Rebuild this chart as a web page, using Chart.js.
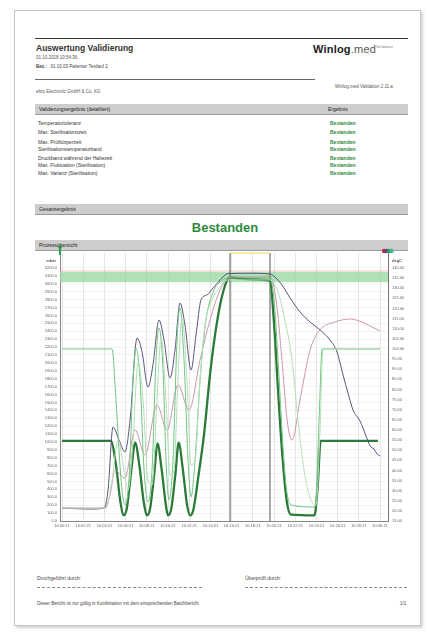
<!DOCTYPE html>
<html><head><meta charset="utf-8">
<script src="https://cdn.jsdelivr.net/npm/chart.js@4.4.1/dist/chart.umd.min.js"></script>
<style>
html,body{margin:0;padding:0;background:#fff;}
body{width:431px;height:633px;position:relative;overflow:hidden;font-family:"Liberation Sans",Arial,sans-serif;color:#333;}
.abs{position:absolute;white-space:nowrap;}
.page{position:absolute;left:14px;top:10px;width:405px;height:614px;border:1px solid #c4c4c4;box-shadow:2px 2px 3px rgba(0,0,0,0.18);}
.bar{position:absolute;left:35px;width:373px;height:10px;background:#cdcdcd;border-bottom:1px solid #9a9a9a;font-size:5px;line-height:10px;color:#222;}
.bar span{position:absolute;left:4px;}
.row{position:absolute;left:38px;font-size:5px;color:#333;white-space:nowrap;}
.ok{position:absolute;left:330px;font-size:5px;color:#2d8a3c;font-weight:bold;white-space:nowrap;}
#chartBox{position:absolute;left:0;top:245px;width:431px;height:295px;}
</style>
</head><body>
<div class="page"></div>

<div class="abs" style="left:35px;top:38px;width:373px;height:0;border-top:1.5px solid #333;"></div>
<div class="abs" style="left:36px;top:43px;font-size:8.5px;font-weight:bold;color:#333;">Auswertung Validierung</div>
<div class="abs" style="left:36px;top:55px;font-size:4.5px;color:#555;">01.10.2018 10:54:36</div>
<div class="abs" style="left:36px;top:64px;font-size:4.5px;color:#444;"><b>Bez.:</b>&nbsp;&nbsp;&nbsp;01.10.03 Patienter Testlauf 2</div>
<div class="abs" style="left:35px;top:79px;width:280px;height:0;border-top:1px solid #666;"></div>
<div class="abs" style="left:36px;top:89px;font-size:4.5px;color:#555;">ebro Electronic GmbH &amp; Co. KG</div>
<div class="abs" style="left:313px;top:43px;font-size:11px;font-weight:bold;color:#222;letter-spacing:0.2px;">Winlog<span style="font-weight:normal;color:#555;">.med</span><sup style="font-size:3.5px;font-weight:normal;color:#777;">Validation</sup></div>
<div class="abs" style="left:335px;top:84px;font-size:4.5px;color:#555;">Winlog.med Validation 2.11.a</div>

<div class="bar" style="top:104px;"><span>Validierungsergebnis (detailliert)</span><span style="left:293px;">Ergebnis</span></div>
<div id="rows"></div>

<div class="bar" style="top:204px;"><span>Gesamtergebnis</span></div>
<div class="abs" style="left:0;width:450px;text-align:center;top:220px;font-size:13px;font-weight:bold;color:#2d8a3c;">Bestanden</div>
<div class="bar" style="top:240px;"><span>Prozessübersicht</span></div>

<div id="chartBox"><canvas id="c" width="431" height="295"></canvas></div>

<div class="abs" style="left:37px;top:575px;font-size:5px;color:#444;">Durchgeführt durch:</div>
<div class="abs" style="left:245px;top:575px;font-size:5px;color:#444;">Überprüft durch:</div>
<div class="abs" style="left:37px;top:587px;width:165px;height:0;border-top:1px dashed #888;"></div>
<div class="abs" style="left:245px;top:587px;width:162px;height:0;border-top:1px dashed #888;"></div>
<div class="abs" style="left:37px;top:601px;font-size:4.5px;color:#444;">Dieser Bericht ist nur gültig in Kombination mit dem entsprechenden Batchbericht</div>
<div class="abs" style="left:400px;top:601px;font-size:4.5px;color:#444;">1/1</div>

<script>
// Validation criteria and their results
const criteria = [
  "Temperaturtoleranz",
  "Max. Sterilisationszeit",
  "Max. Prüfkörperzeit",
  "Sterilisationstemperaturband",
  "Druckband während der Haltezeit",
  "Max. Fluktuation (Sterilisation)",
  "Max. Varianz (Sterilisation)"
];
const results = ["Bestanden","Bestanden","Bestanden","Bestanden","Bestanden","Bestanden","Bestanden"];
const rowTops = [120, 128.5, 139, 146, 155, 162, 170];

const rowsEl = document.getElementById('rows');
criteria.forEach((name, i) => {
  const a = document.createElement('div');
  a.className = 'row'; a.style.top = rowTops[i] + 'px'; a.textContent = name;
  const b = document.createElement('div');
  b.className = 'ok'; b.style.top = rowTops[i] + 'px'; b.textContent = results[i];
  rowsEl.appendChild(a); rowsEl.appendChild(b);
});

// Time axis: minutes after 10:00:21
const startClock = [10, 0, 21];
const timeTicks = [0,2,4,6,8,10,12,14,16,18,20,22,24,26,28,30];

// Chamber pressure (mbar)
const pressureTime = [0,4.6,5.1,5.5,5.8,6.1,6.5,6.9,7.3,7.7,8.0,8.3,8.7,9.0,9.4,9.8,10.0,10.3,10.7,11.0,11.4,11.8,12.1,12.4,12.9,13.4,14.0,14.6,15.2,15.8,17.5,19.6,20.0,20.4,20.8,21.2,21.6,23.8,24.1,24.4,29.8];
const pressure     = [1013,1013,700,250,70,150,600,990,700,250,70,150,600,980,650,200,70,150,600,990,650,200,70,150,600,1100,1900,2500,2900,3080,3060,3040,2500,1600,800,250,80,70,400,1013,1013];

// Chamber temperature (°C)
const chamberTime = [0,2.64,3.96,4.34,4.81,5.38,5.94,6.42,7.08,7.55,8.11,8.58,9.15,9.62,10.19,10.66,11.13,11.6,12.17,12.64,13.11,13.68,14.25,14.91,15.66,17.74,19.62,20.09,20.75,21.51,22.45,23.4,24.34,25.28,25.94,26.51,26.98,27.45,28.11,28.68,29.06,29.43,29.72,30.0];
const chamberTemp = [21.4,20.9,21.4,30.3,61.4,55.0,49.1,64.9,105.4,98.5,81.2,92.1,114.3,104.4,85.7,99.5,122.7,111.8,89.6,106.9,124.2,126.7,130.1,134.1,137.2,137.4,137.0,135.5,131.6,125.2,118.3,113.3,109.4,104.4,98.5,87.1,78.2,69.8,64.4,57.0,52.1,50.6,48.1,47.1];

// Load temperature (°C)
const loadTime = [0,4.06,4.53,5.0,5.94,6.89,7.83,8.96,9.91,10.94,11.98,13.02,13.96,14.91,15.85,19.62,20.19,20.75,21.23,21.7,22.45,23.4,24.34,25.75,27.17,28.3,29.25,30.0];
const loadTemp = [21.4,21.4,27.8,40.2,36.2,60.0,47.6,72.3,60.0,82.2,69.8,94.5,114.3,129.1,135.6,135.6,124.2,94.5,64.9,55.0,74.8,99.5,109.4,113.3,114.8,113.3,110.8,108.9];

// Sensor 1 temperature (°C)
const sensor1Time = [0,4.72,5.09,5.57,5.94,6.32,6.7,6.98,7.36,7.74,8.11,8.49,8.87,9.15,9.53,9.81,10.09,10.47,10.85,11.13,11.51,11.89,12.17,12.55,13.02,13.58,14.25,14.91,15.66,19.62,20.0,20.38,20.75,21.13,21.6,23.87,24.25,24.53,30.0];
const sensor1Temp = [100.0,100.0,74.8,35.3,22.9,35.3,84.7,100.5,84.7,40.2,24.4,40.2,94.5,110.4,89.6,45.1,25.4,45.1,104.4,120.2,94.5,45.1,26.9,45.1,84.7,114.3,128.1,133.1,135.1,135.1,124.2,94.5,60.0,32.8,22.9,21.9,64.9,100.0,100.0];

// Sensor 2 temperature (°C)
const sensor2Time = [0,4.15,4.72,5.28,5.85,6.23,6.7,7.17,7.64,8.11,8.49,8.96,9.34,9.81,10.19,10.57,10.94,11.32,11.79,12.17,12.55,13.02,13.49,14.15,14.91,15.66,19.62,20.38,20.98,21.7,22.26,22.83,23.4,23.96,24.34,24.62,30.0];
const sensor2Temp = [21.4,21.4,35.3,55.0,40.2,30.3,55.0,93.5,74.8,35.3,32.8,74.8,105.4,74.8,37.7,40.2,84.7,115.3,84.7,42.7,45.1,84.7,111.8,124.2,130.6,134.1,134.1,128.1,115.3,94.5,64.9,40.2,26.4,22.9,60.0,100.0,100.0];

// Sterilization band and limit (°C), holding phase (minutes)
const bandLow = 133, bandHigh = 138, upperLimit = 138.5;
const phaseStart = 15.85, phaseEnd = 19.62;

const pts = (xs, ys) => xs.map((x, i) => ({x, y: ys[i]}));
const pad2 = n => String(n).padStart(2, '0');
function clockLabel(min) {
  let s = startClock[0]*3600 + startClock[1]*60 + startClock[2] + Math.round(min*60);
  return pad2(Math.floor(s/3600)) + ':' + pad2(Math.floor(s/60)%60) + ':' + pad2(s%60);
}

const deco = {
  id: 'deco',
  beforeDatasetsDraw(chart) {
    const {ctx, chartArea: a, scales} = chart;
    const yT = scales.yT, x = scales.x;
    ctx.save();
    // temperature band
    const yHi = yT.getPixelForValue(bandHigh), yLo = yT.getPixelForValue(bandLow);
    ctx.fillStyle = 'rgba(150,215,160,0.75)';
    ctx.fillRect(a.left, yHi, a.right - a.left, yLo - yHi);
    // upper limit line
    const yL = yT.getPixelForValue(upperLimit);
    ctx.strokeStyle = '#eab0a8'; ctx.lineWidth = 0.8;
    ctx.beginPath(); ctx.moveTo(a.left, yL); ctx.lineTo(a.right, yL); ctx.stroke();
    // holding phase markers
    const x1 = x.getPixelForValue(phaseStart), x2 = x.getPixelForValue(phaseEnd);
    ctx.strokeStyle = '#555'; ctx.lineWidth = 1;
    ctx.beginPath();
    ctx.moveTo(x1, a.top); ctx.lineTo(x1, a.bottom);
    ctx.moveTo(x2, a.top); ctx.lineTo(x2, a.bottom);
    ctx.stroke();
    ctx.strokeStyle = '#f2d84a'; ctx.lineWidth = 1.2;
    ctx.beginPath(); ctx.moveTo(x1, a.top); ctx.lineTo(x2, a.top); ctx.stroke();
    ctx.restore();
  },
  afterDraw(chart) {
    const {ctx, chartArea: a} = chart;
    ctx.save();
    // axis cursors
    ctx.fillStyle = '#2e9a4a';
    ctx.fillRect(a.left - 1, a.top - 6, 2, 8);
    ctx.beginPath(); ctx.arc(a.left, a.top - 6, 2, 0, Math.PI*2); ctx.fill();
    const cols = ['#c0304a', '#6a3c8c', '#2ea24a', '#3fb8a0'];
    cols.forEach((c, i) => {
      ctx.fillStyle = c;
      ctx.beginPath(); ctx.arc(a.right - 4 + i*2.5, a.top - 2, 2.2, 0, Math.PI*2); ctx.fill();
    });
    // unit labels
    ctx.fillStyle = '#555';
    ctx.font = 'bold 4px "Liberation Sans", Arial';
    ctx.textAlign = 'right';
    ctx.fillText('mbar', a.left - 4, a.top + 9);
    ctx.textAlign = 'left';
    ctx.fillText('degC', a.right + 4, a.top + 9);
    ctx.restore();
  }
};

const lineDs = (label, xs, ys, color, width, axis) => ({
  label, data: pts(xs, ys), borderColor: color, borderWidth: width,
  pointRadius: 0, fill: false, yAxisID: axis, cubicInterpolationMode: 'monotone'
});

new Chart(document.getElementById('c'), {
  type: 'line',
  data: {
    datasets: [
      lineDs('Sensor 2', sensor2Time, sensor2Temp, '#b2e0b9', 1, 'yT'),
      lineDs('Sensor 1', sensor1Time, sensor1Temp, '#72c482', 1, 'yT'),
      lineDs('Beladung', loadTime, loadTemp, '#c88aa0', 0.9, 'yT'),
      lineDs('Kammer', chamberTime, chamberTemp, '#4c416e', 0.9, 'yT'),
      lineDs('Druck', pressureTime, pressure, '#2c7a39', 2.3, 'yP')
    ]
  },
  options: {
    responsive: false, animation: false,
    layout: {padding: {top: 8, left: 0, right: 0, bottom: 0}},
    plugins: {legend: {display: false}, tooltip: {enabled: false}},
    scales: {
      x: {
        type: 'linear', min: -0.19, max: 30.75,
        afterBuildTicks: s => { s.ticks = timeTicks.map(v => ({value: v})); },
        afterFit: s => { s.height = 19; },
        ticks: {callback: v => clockLabel(v), font: {size: 4}, color: '#666', padding: 2, maxRotation: 0, autoSkip: false},
        grid: {color: '#dedede', lineWidth: 0.8, drawTicks: false},
        border: {color: '#888'}
      },
      yP: {
        position: 'left', min: 0, max: 3389.6,
        afterBuildTicks: s => { const t = []; for (let v = 0; v <= 3200; v += 100) t.push({value: v}); s.ticks = t; },
        afterFit: s => { s.width = 60; },
        ticks: {callback: v => v.toFixed(1), font: {size: 4}, color: '#666', padding: 3, autoSkip: false},
        grid: {color: '#ececec', lineWidth: 0.6, drawTicks: false},
        border: {color: '#888'}
      },
      yT: {
        position: 'right', min: 15, max: 147.4,
        afterBuildTicks: s => { const t = []; for (let v = 15; v <= 140; v += 5) t.push({value: v}); s.ticks = t; },
        afterFit: s => { s.width = 43; },
        ticks: {callback: v => v.toFixed(2), font: {size: 4}, color: '#666', padding: 4, autoSkip: false},
        grid: {drawOnChartArea: false, drawTicks: false},
        border: {color: '#777'}
      }
    }
  },
  plugins: [deco]
});
</script>
</body></html>
